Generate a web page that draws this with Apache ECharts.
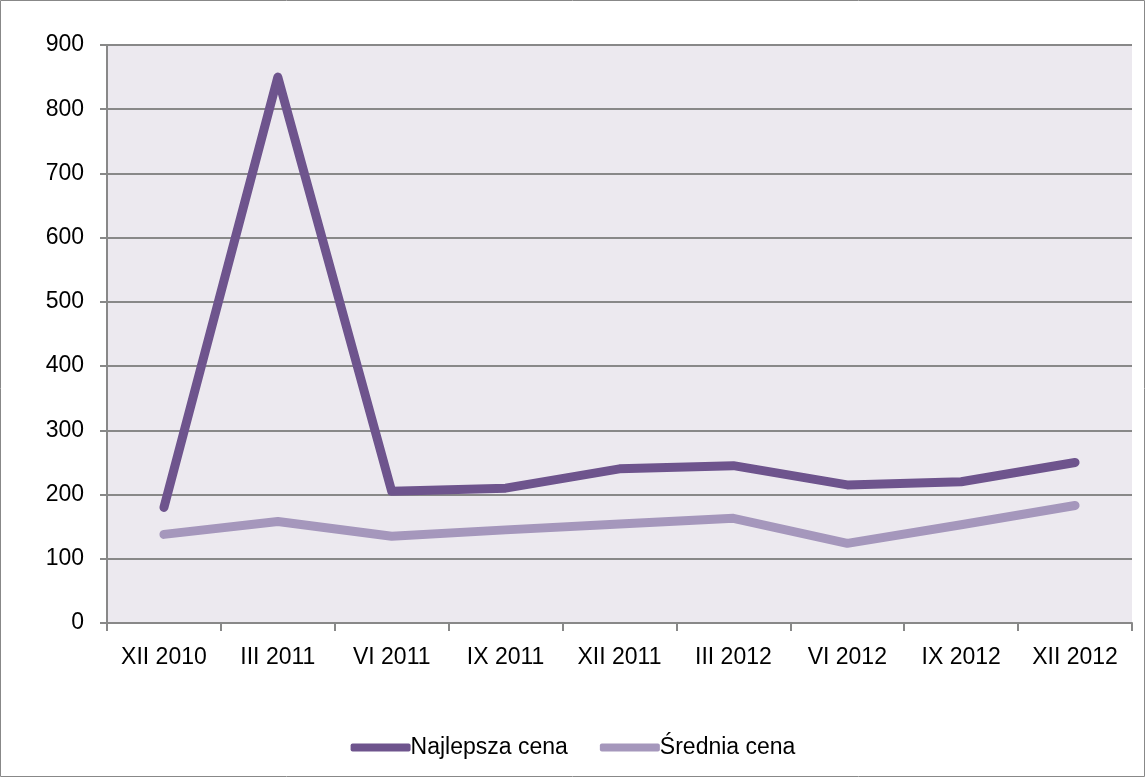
<!DOCTYPE html>
<html><head><meta charset="utf-8">
<script src="https://cdn.jsdelivr.net/npm/echarts@6/dist/echarts.min.js"></script>
<style>html,body{margin:0;padding:0;background:#fff}#c{width:1146px;height:778px}</style>
</head><body><div id="c"></div>
<script>
const categories = ['XII 2010','III 2011','VI 2011','IX 2011','XII 2011','III 2012','VI 2012','IX 2012','XII 2012'];
const bestPrice = [180, 850, 205, 210, 240, 245, 215, 220, 250];
const avgPrice = [138, 158, 135, 145, 154, 163, 124, 153, 183];
const seriesNames = ['Najlepsza cena', 'Średnia cena'];
const yTicks = {min: 0, max: 900, interval: 100};

const chart = echarts.init(document.getElementById('c'));
const font = 'Liberation Sans, Arial, sans-serif';
chart.setOption({
  animation: false,
  graphic: [{type:'rect', shape:{x:0.5,y:0.5,width:1144,height:776}, style:{fill:'none', stroke:'#888', lineWidth:1}}],
  grid: {left:107, right:14, top:45, bottom:155, show:true, backgroundColor:'#ECE9EF', borderWidth:0},
  legend: {
    top: 731, left: 'center', itemWidth: 60, itemHeight: 8, itemGap: 32,
    icon: 'roundRect',
    textStyle: {fontFamily: font, fontSize: 23, color: '#000', padding:[0,0,0,-5]},
    data: seriesNames
  },
  xAxis: {
    type:'category', data: categories, boundaryGap: true,
    axisLine:{lineStyle:{color:'#888', width:2}},
    axisTick:{show:true, length:8, lineStyle:{color:'#888', width:2}},
    axisLabel:{fontFamily:font, fontSize:23, color:'#000', margin:23}
  },
  yAxis: {
    type:'value', min: yTicks.min, max: yTicks.max, interval: yTicks.interval,
    axisLine:{show:true, lineStyle:{color:'#888', width:2}},
    axisTick:{show:true, length:7, lineStyle:{color:'#888', width:2}},
    axisLabel:{fontFamily:font, fontSize:23, color:'#000', margin:23},
    splitLine:{lineStyle:{color:'#888', width:2}}
  },
  series: [
    {name: seriesNames[0], type:'line', data: bestPrice, symbol:'none', color:'#6E548D',
     lineStyle:{width:9, color:'#6E548D', cap:'round', join:'round'}},
    {name: seriesNames[1], type:'line', data: avgPrice, symbol:'none', color:'#A597BC',
     lineStyle:{width:9, color:'#A597BC', cap:'round', join:'round'}}
  ]
});
</script></body></html>
